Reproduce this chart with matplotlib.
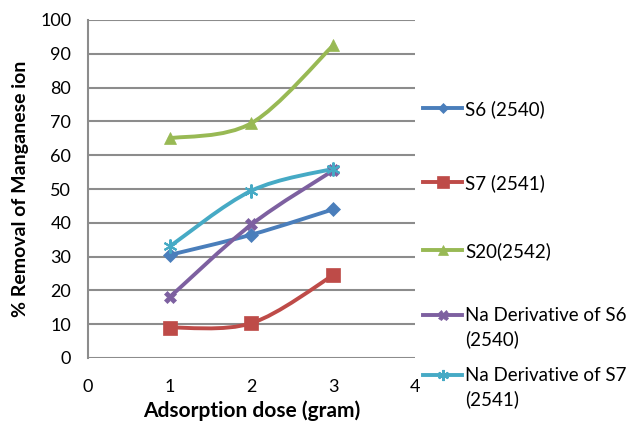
import matplotlib
matplotlib.use("Agg")
import matplotlib.pyplot as plt
from matplotlib.path import Path
from matplotlib.patches import PathPatch
from matplotlib.lines import Line2D

plt.rcParams['font.family'] = ['Lato', 'DejaVu Sans']

doses = [1, 2, 3]
s6 = [30.5, 36.5, 44.0]
s7 = [9.0, 10.3, 24.5]
s20 = [65.0, 69.5, 92.5]
na_s6 = [18.0, 39.5, 55.5]
na_s7 = [33.0, 49.5, 56.0]

labels = ["S6 (2540)", "S7 (2541)", "S20(2542)",
          "Na Derivative of S6\n(2540)", "Na Derivative of S7\n(2541)"]
series = [s6, s7, s20, na_s6, na_s7]
colors = ["#4A7EBB", "#BE4B48", "#98B954", "#7D60A0", "#46AAC5"]
markers = ["D", "s", "^", "X", (6, 2, 0)]
msizes = [7, 10, 9, 9, 10]

xticks = [0, 1, 2, 3, 4]
yticks = list(range(0, 101, 10))

fig = plt.figure(figsize=(6.27, 4.25), dpi=100)
ax = fig.add_axes([88/627, 1-358/425, (415-88)/627, (358-20)/425])


def smooth_path(xs, ys):
    pts = list(zip(xs, ys))
    n = len(pts)
    verts = [pts[0]]
    codes = [Path.MOVETO]
    for i in range(n - 1):
        p0 = pts[max(i - 1, 0)]
        p1 = pts[i]
        p2 = pts[i + 1]
        p3 = pts[min(i + 2, n - 1)]
        c1 = (p1[0] + (p2[0] - p0[0]) / 6, p1[1] + (p2[1] - p0[1]) / 6)
        c2 = (p2[0] - (p3[0] - p1[0]) / 6, p2[1] - (p3[1] - p1[1]) / 6)
        verts += [c1, c2, p2]
        codes += [Path.CURVE4] * 3
    return Path(verts, codes)


for ys, c, m, ms in zip(series, colors, markers, msizes):
    ax.add_patch(PathPatch(smooth_path(doses, ys), fill=False, edgecolor=c,
                           lw=2.8, capstyle='round', joinstyle='round', zorder=3))
    ax.plot(doses, ys, linestyle='none', marker=m, markersize=ms, color=c,
            markeredgecolor=c, markeredgewidth=1.5 if m == (6, 2, 0) else 0.5, zorder=4)

ax.set_xlim(0, 4)
ax.set_ylim(0, 100)
ax.set_xticks(xticks)
ax.set_yticks(yticks)
ax.set_xticklabels([str(v) for v in xticks], fontsize=13)
ax.set_yticklabels([str(v) for v in yticks], fontsize=13)
ax.tick_params(axis='x', length=0, pad=15)
ax.tick_params(axis='y', length=0, pad=12)
ax.yaxis.grid(True, color='#8C8C8C', lw=1.5)
ax.set_axisbelow(True)
for s in ['top', 'right', 'bottom']:
    ax.spines[s].set_visible(False)
ax.spines['left'].set_color('#8C8C8C')
ax.spines['left'].set_linewidth(1.5)

ax.set_xlabel("Adsorption dose (gram)", fontsize=15, fontweight='bold', labelpad=4)
ax.set_ylabel("% Removal of Manganese ion", fontsize=14, fontweight='bold', labelpad=8)

# legend drawn on the figure
leg_y = [108, 182, 250, 315, 375]
for ypix, lab, c, m, ms in zip(leg_y, labels, colors, markers, msizes):
    yf = 1 - ypix / 425
    fig.add_artist(Line2D([423/627, 462/627], [yf, yf], color=c, lw=2.8,
                          marker=None, transform=fig.transFigure))
    fig.add_artist(Line2D([442.5/627], [yf], color=c, marker=m, markersize=ms*0.8,
                          markeredgecolor=c, markeredgewidth=1.5 if m == (6, 2, 0) else 0.5,
                          linestyle='none', transform=fig.transFigure))
    fig.text(465/627, yf + 8/425, lab, fontsize=13.5, va='top', ha='left',
             linespacing=1.45)

fig.savefig("out.png", dpi=100)
